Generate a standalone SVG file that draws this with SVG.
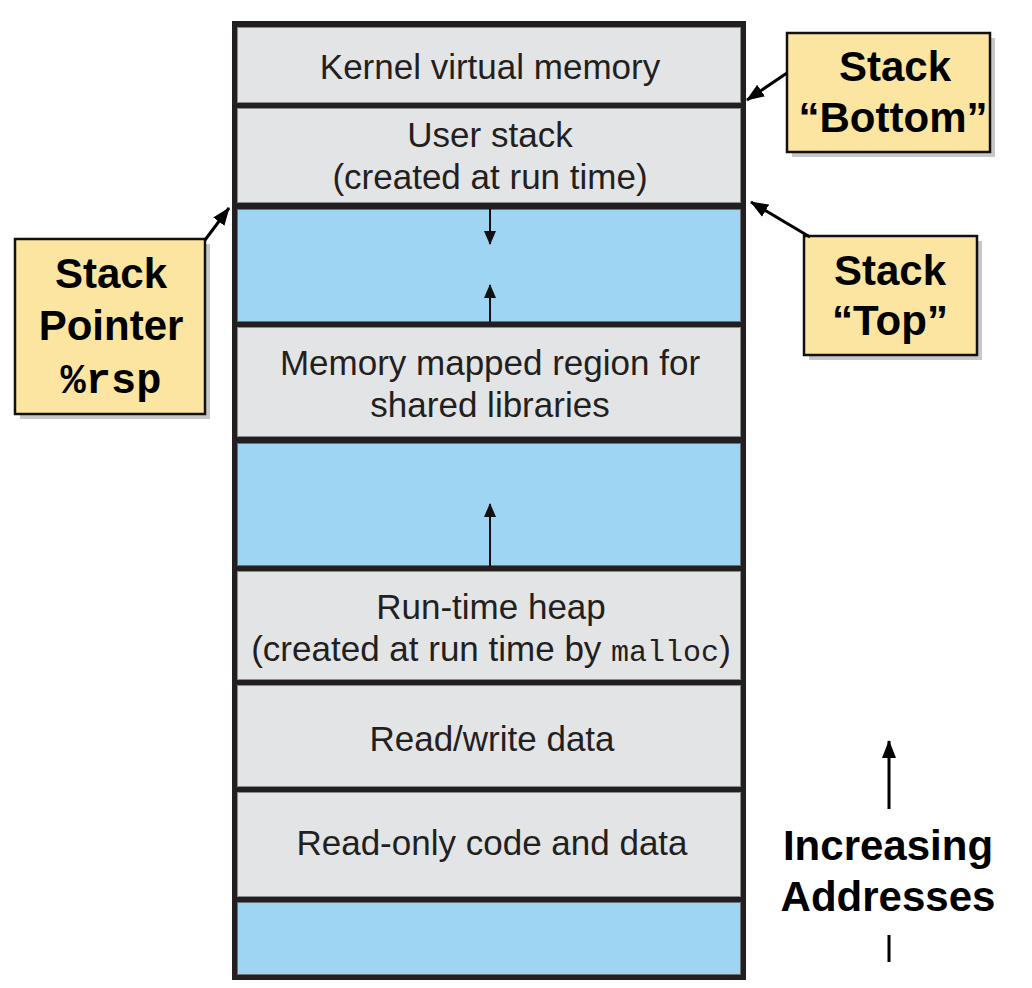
<svg xmlns="http://www.w3.org/2000/svg" width="1032" height="988" viewBox="0 0 1032 988">
<style>
.sec{fill:#e3e4e6;stroke:#8a8b8e;stroke-width:1}
.free{fill:#9dd5f2;stroke:#6d6e71;stroke-width:1}
.t{font-family:"Liberation Sans",Arial,sans-serif;font-size:35px;fill:#231f20;text-anchor:middle}
.mono{font-family:"Liberation Mono","Courier New",monospace;font-size:30px}
.call{fill:#fbe5a1;stroke:#111;stroke-width:2.5}
.shadow{fill:#c8c8c8}
.b{font-family:"Liberation Sans",Arial,sans-serif;font-size:42px;font-weight:bold;fill:#000;text-anchor:middle}
.bm{font-family:"Liberation Mono","Courier New",monospace;font-size:42px;font-weight:bold;fill:#000;text-anchor:middle}
.ln{stroke:#111;stroke-width:2;fill:none}
.cl{stroke:#000;stroke-width:3;fill:none}
</style>
<defs>
<marker id="ah" markerUnits="userSpaceOnUse" markerWidth="14" markerHeight="14" viewBox="0 0 14 14" refX="13" refY="7" orient="auto">
<path d="M0,1 L14,7 L0,13 Z" fill="#111"/>
</marker>
<marker id="ahb" markerUnits="userSpaceOnUse" markerWidth="18" markerHeight="16" viewBox="0 0 18 16" refX="17" refY="8" orient="auto">
<path d="M0,1 L18,8 L0,15 Z" fill="#000"/>
</marker>
</defs>
<rect x="0" y="0" width="1032" height="988" fill="#fff"/>

<g id="memory">
<rect x="232" y="21" width="514" height="959" fill="#231f20"/>
<g id="kernel"><rect class="sec" x="237.5" y="27.5" width="503" height="75"/>
<text class="t" x="490" y="79">Kernel virtual memory</text></g>
<g id="user-stack"><rect class="sec" x="237.5" y="108.5" width="503" height="94"/>
<text class="t" x="490" y="147">User stack</text>
<text class="t" x="490" y="189">(created at run time)</text></g>
<g id="gap1"><rect class="free" x="237.5" y="209.5" width="503" height="112"/></g>
<g id="mmap"><rect class="sec" x="237.5" y="327.5" width="503" height="109"/>
<text class="t" x="490" y="375">Memory mapped region for</text>
<text class="t" x="490" y="417">shared libraries</text></g>
<g id="gap2"><rect class="free" x="237.5" y="443.5" width="503" height="122"/></g>
<g id="heap"><rect class="sec" x="237.5" y="571.5" width="503" height="108"/>
<text class="t" x="491" y="619">Run-time heap</text>
<text class="t" x="491" y="661">(created at run time by <tspan class="mono">malloc</tspan>)</text></g>
<g id="rwdata"><rect class="sec" x="237.5" y="685.5" width="503" height="101"/>
<text class="t" x="492" y="751">Read/write data</text></g>
<g id="rodata"><rect class="sec" x="237.5" y="792.5" width="503" height="104"/>
<text class="t" x="492" y="855">Read-only code and data</text></g>
<g id="gap3"><rect class="free" x="237.5" y="902.5" width="503" height="72"/></g>
</g>

<g id="stack-bottom">
<rect class="shadow" x="792" y="38" width="203" height="119"/>
<rect class="call" x="787" y="33" width="203" height="119"/>
<text class="b" x="895" y="81">Stack</text>
<text class="b" x="893" y="132">“Bottom”</text>
</g>
<g id="stack-top">
<rect class="shadow" x="809" y="241" width="173" height="119"/>
<rect class="call" x="804" y="236" width="173" height="119"/>
<text class="b" x="890" y="285">Stack</text>
<text class="b" x="890" y="335">“Top”</text>
</g>
<g id="stack-pointer">
<rect class="shadow" x="20" y="244" width="190" height="175"/>
<rect class="call" x="15" y="239" width="190" height="175"/>
<text class="b" x="111" y="288">Stack</text>
<text class="b" x="111" y="340">Pointer</text>
<text class="bm" x="111" y="393">%rsp</text>
</g>
<g id="increasing">
<text class="b" x="888" y="860">Increasing</text>
<text class="b" x="888" y="911">Addresses</text>
</g>

<g id="connectors">
<line class="ln" x1="490" y1="209" x2="490" y2="244" marker-end="url(#ah)"/>
<line class="ln" x1="490" y1="322" x2="490" y2="285" marker-end="url(#ah)"/>
<line class="ln" x1="490" y1="566" x2="490" y2="504" marker-end="url(#ah)"/>
<line class="cl" x1="787" y1="73" x2="747" y2="100" marker-end="url(#ahb)"/>
<line class="cl" x1="810" y1="237" x2="751" y2="202" marker-end="url(#ahb)"/>
<line class="cl" x1="205" y1="240" x2="229" y2="208" marker-end="url(#ahb)"/>
<line class="cl" x1="889" y1="809" x2="889" y2="741" marker-end="url(#ahb)"/>
<line class="cl" x1="889" y1="935" x2="889" y2="962"/>
</g>
</svg>
